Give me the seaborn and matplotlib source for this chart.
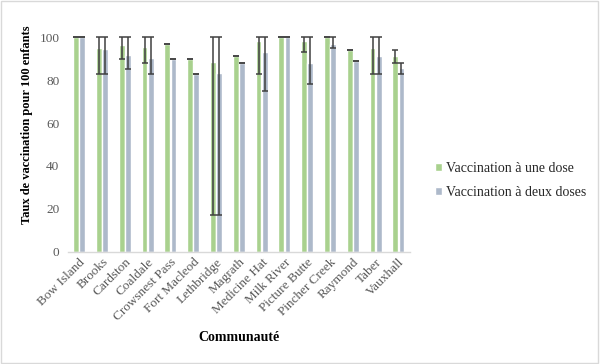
import matplotlib
matplotlib.use("Agg")
import matplotlib.pyplot as plt
import seaborn as sns
import pandas as pd
import numpy as np
from matplotlib.patches import Rectangle

communities = ["Bow Island", "Brooks", "Cardston", "Coaldale", "Crowsnest Pass",
               "Fort Macleod", "Lethbridge", "Magrath", "Medicine Hat", "Milk River",
               "Picture Butte", "Pincher Creek", "Raymond", "Taber", "Vauxhall"]
series_names = ["Vaccination à une dose", "Vaccination à deux doses"]

one_dose = [100, 95, 96.5, 95.5, 97, 90, 88.5, 91, 98, 100, 98, 100, 94, 95, 91]
two_doses = [100, 94.5, 91.5, 90.5, 90, 83, 83.5, 88, 93, 100, 88, 97, 89, 91, 85.5]

one_low = [100, 83, 90, 88, 97, 90, 17, 91, 83, 100, 93, 100, 94, 83, 88]
one_high = [100, 100, 100, 100, 97, 90, 100, 91, 100, 100, 100, 100, 94, 100, 94]
two_low = [100, 83, 85, 83, 90, 83, 17, 88, 75, 100, 78, 95, 89, 83, 83]
two_high = [100, 100, 100, 100, 90, 83, 100, 88, 100, 100, 100, 100, 89, 100, 88]

y_ticks = [0, 20, 40, 60, 80, 100]

df = pd.DataFrame({
    "Communauté": communities * 2,
    "Taux": one_dose + two_doses,
    "Série": [series_names[0]] * len(communities) + [series_names[1]] * len(communities),
})

colors = ["#A9D18E", "#ADB9CA"]

sns.set_theme(style="white")
plt.rcParams["font.family"] = ["Liberation Serif", "DejaVu Serif"]

fig = plt.figure(figsize=(6, 3.64), dpi=100)
ax = fig.add_axes([0.113, 0.308, 0.57, 0.59])

sns.barplot(data=df, x="Communauté", y="Taux", hue="Série", palette=colors,
            width=0.54, gap=0.06, errorbar=None, ax=ax, saturation=1, legend=True)

lows = [one_low, two_low]
highs = [one_high, two_high]
vals = [one_dose, two_doses]
for cont, lo, hi, v in zip(ax.containers, lows, highs, vals):
    xs = [p.get_x() + p.get_width() / 2 for p in cont.patches]
    v = np.array(v, dtype=float)
    yerr = np.vstack([v - np.array(lo), np.array(hi) - v])
    ax.errorbar(xs, v, yerr=yerr, fmt="none", ecolor="#404040", elinewidth=1.1,
                capsize=2.3, capthick=1.1, clip_on=False, zorder=5)

ax.set_ylim(0, 100)
ax.set_xlim(-0.5, len(communities) - 0.5)
ax.set_yticks(y_ticks)
ax.tick_params(axis="both", length=0, labelsize=9.5, labelcolor="#595959")
ax.tick_params(axis="y", pad=6)
ax.tick_params(axis="x", pad=3)
for lab in ax.get_xticklabels():
    lab.set_rotation(45)
    lab.set_ha("right")
    lab.set_rotation_mode("anchor")

for s in ["top", "right", "left"]:
    ax.spines[s].set_visible(False)
ax.spines["bottom"].set_color("#D9D9D9")
ax.spines["bottom"].set_linewidth(1)
ax.grid(False)

ax.set_ylabel("Taux de vaccination pour 100 enfants", fontsize=9, fontweight="bold",
              color="black")
ax.set_xlabel("Communauté", fontsize=10, fontweight="bold", color="black")
ax.xaxis.set_label_coords(0.5, -0.37)
ax.yaxis.set_label_coords(-0.102, 0.59)

handles, labels = ax.get_legend_handles_labels()
ax.legend(handles, labels, loc="center left", bbox_to_anchor=(1.056, 0.332),
          frameon=False, fontsize=10, handlelength=0.55, handleheight=0.55,
          handletextpad=0.25, labelspacing=0.8, borderaxespad=0)

fig.add_artist(Rectangle((0.002, 0.003), 0.995, 0.993, transform=fig.transFigure,
                         fill=False, edgecolor="#D9D9D9", linewidth=1))

fig.savefig("out.png", dpi=100)
